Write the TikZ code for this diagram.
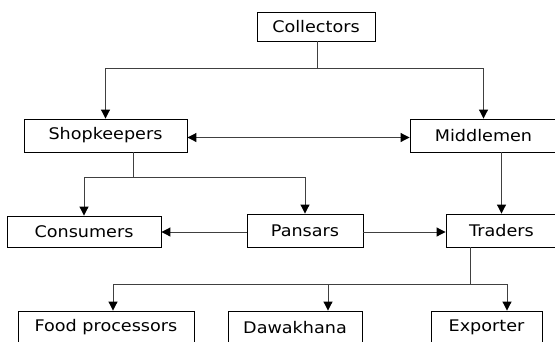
\documentclass[tikz,border=0pt]{standalone}
\usepackage{fontspec}
\setmainfont{DejaVu Sans}[FakeStretch=1.1]
\usetikzlibrary{arrows.meta}

\begin{document}
\begin{tikzpicture}[x=1pt, y=-1pt,
	box/.style={draw, line width=0.9pt, inner sep=0pt, minimum height=33pt,
		font=\fontsize{16}{19}\selectfont},
	link/.style={line width=1pt, draw=black!75},
	>={Triangle[length=9pt, width=9pt, color=black]}]
	\useasboundingbox (0,0) rectangle (555,341);

	\node[box, minimum width=118pt, minimum height=29pt] (coll) at (316,26.5) {Collectors};
	\node[box, minimum width=163pt] (shop) at (105.5,135.5) {Shopkeepers};
	\node[box, minimum width=147pt] (mid) at (483.5,135.5) {Middlemen};
	\node[box, minimum width=154pt, minimum height=31pt] (cons) at (84,231.5) {Consumers};
	\node[box, minimum width=116pt] (pans) at (305,230.5) {Pansars};
	\node[box, minimum width=111pt] (trad) at (501.5,230.5) {Traders};
	\node[box, minimum width=176pt] (food) at (106,327.5) {Food processors};
	\node[box, minimum width=134pt] (dawa) at (295,327.5) {Dawakhana};
	\node[box, minimum width=111pt] (expo) at (486.5,327.5) {Exporter};

	\coordinate (cj) at (317,68);
	\coordinate (sj) at (133,177);
	\coordinate (tj) at (470,284);

	\draw[link] (coll.south -| cj) -- (cj);
	\draw[link, ->] (cj) -| (shop.north);
	\draw[link, ->] (cj) -| (mid.north);
	\draw[link, <->] ([yshift=-2pt]shop.east) -- ([yshift=-2pt]mid.west);

	\draw[link] (shop.south -| sj) -- (sj);
	\draw[link, ->] (sj) -| (cons.north);
	\draw[link, ->] (sj) -| (pans.north);
	\draw[link, ->] (trad.north |- mid.south) -- (trad.north);
	\draw[link, ->] ([yshift=-1.5pt]pans.west) -- ([yshift=-1.5pt]pans.west -| cons.east);
	\draw[link, ->] ([yshift=-1.5pt]pans.east) -- ([yshift=-1.5pt]pans.east -| trad.west);

	\draw[link] (trad.south -| tj) -- (tj);
	\draw[link, ->] (tj) -| ([xshift=7pt]food.north);
	\draw[link, ->] (tj) -| ([xshift=33pt]dawa.north);
	\draw[link, ->] (tj) -| ([xshift=20.5pt]expo.north);
\end{tikzpicture}
\end{document}
